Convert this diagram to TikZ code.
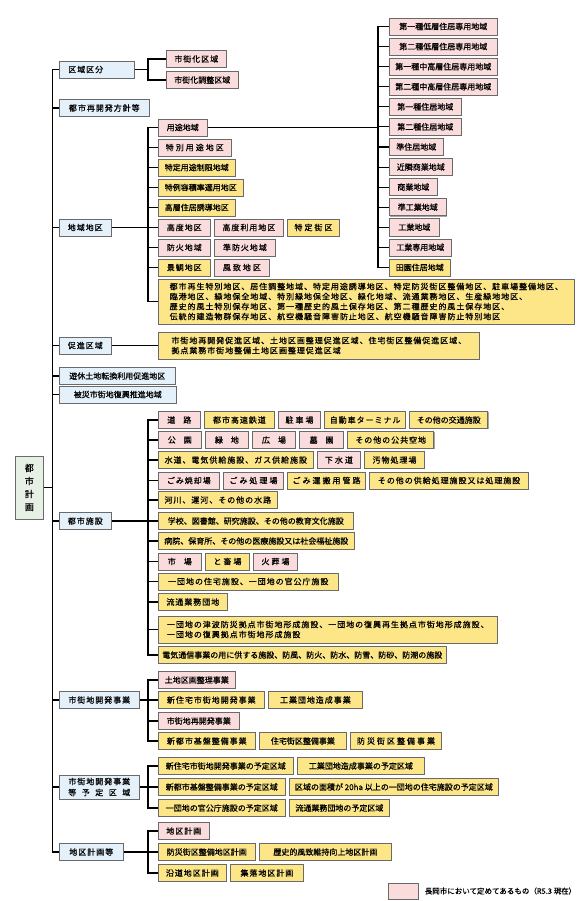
\documentclass[tikz,border=0pt]{standalone}
\usepackage{fontspec}
\setmainfont{Noto Sans CJK JP}[FakeBold=0.6]
\newfontfamily\semi{Noto Sans CJK JP}[LetterSpace=12,FakeBold=0.6]
\newfontfamily\wide{Noto Sans CJK JP}[LetterSpace=25,FakeBold=0.6]
\usetikzlibrary{positioning,shadows}
\definecolor{pinkfill}{HTML}{FADCDC}
\definecolor{yellowfill}{HTML}{FCE687}
\definecolor{bluefill}{HTML}{E4F1FB}
\definecolor{greenfill}{HTML}{E7F0E4}
\definecolor{boxline}{HTML}{6A6A6A}

\begin{document}
\begin{tikzpicture}[x=1pt,y=-1pt,node distance=3.5pt,
  box/.style={draw=boxline,line width=0.6pt,minimum height=17pt,inner sep=0pt,anchor=west,
    font=\fontsize{8pt}{10pt}\selectfont,
    drop shadow={shadow xshift=0.8pt,shadow yshift=-0.8pt,fill=black!35,opacity=1}},
  pk/.style={box,fill=pinkfill,minimum width=#1pt},
  yl/.style={box,fill=yellowfill,minimum width=#1pt},
  bl/.style={box,fill=bluefill,minimum width=#1pt},
  sm/.style={font=\fontsize{8pt}{10pt}\semi},
  wd/.style={font=\fontsize{8pt}{10pt}\wide},
  link/.style={line width=1.1pt}]
  \useasboundingbox[fill=white] (0,0) rectangle (580,901);

  % root and first level
  \node[box,fill=greenfill,minimum width=28pt,minimum height=63pt,align=center,
    font=\fontsize{9pt}{13pt}\selectfont] (toshikeikaku) at (15,487.5) {都\\市\\計\\画};
  \node[bl=75,sm,text width=57pt,align=left,inner xsep=9pt] (kubun) at (59,69.5) {区域区分};
  \node[bl=90,sm] (hoshin) at (59,108) {都市再開発方針等};
  \node[bl=52,sm] (chiiki) at (59,227.5) {地域地区};
  \node[bl=52,sm] (sokushin) at (59,345.5) {促進区域};
  \node[bl=116] (yukyu) at (59,376) {遊休土地転換利用促進地区};
  \node[bl=117] (hisai) at (59,394.5) {被災市街地復興推進地域};
  \node[bl=52,sm] (shisetsu) at (59,521) {都市施設};
  \node[bl=80,sm] (jigyo) at (59,700) {市街地開発事業};
  \node[bl=80,minimum height=24pt,align=center,font=\fontsize{8pt}{11pt}\semi] (yotei) at (59,787)
    {市街地開発事業\\\makebox[62pt][s]{等\hfill{}予\hfill{}定\hfill{}区\hfill{}域}};
  \node[bl=64,sm] (chiku) at (59,852) {地区計画等};

  % 区域区分
  \node[pk=60,sm] (shigaika) at (166,59) {市街化区域};
  \node[pk=72] (chosei) at (166,80) {市街化調整区域};

  % 地域地区
  \node[pk=49] (yoto) at (158,127.5) {用途地域};
  \node[pk=73,wd] (tokubetsu) at (158,147.5) {特別用途地区};
  \node[yl=77] (tokutei) at (158,167.5) {特定用途制限地域};
  \node[yl=85] (tokurei) at (158,187.5) {特例容積率適用地区};
  \node[yl=77] (koso) at (158,207.5) {高層住居誘導地区};
  \node[pk=52,sm] (kodo) at (158,227.5) {高度地区};
  \node[pk=69,sm,right=of kodo] (kodoriyo) {高度利用地区};
  \node[yl=52,wd,right=of kodoriyo] (gaiku) {特定街区};
  \node[pk=52,sm] (boka) at (158,247.5) {防火地域};
  \node[pk=61,sm,right=of boka] (junboka) {準防火地域};
  \node[yl=52,sm] (keikan) at (158,267.5) {景観地区};
  \node[pk=55,wd,right=of keikan] (fuchi) {風致地区};
  \node[yl=416,minimum height=45pt,align=left,font=\fontsize{8pt}{10pt}\semi] (sonota) at (158,301.5)
    {都市再生特別地区、居住調整地域、特定用途誘導地区、特定防災街区整備地区、駐車場整備地区、\\
     臨港地区、緑地保全地域、特別緑地保全地区、緑化地域、流通業務地区、生産緑地地区、\\
     歴史的風土特別保存地区、第一種歴史的風土保存地区、第二種歴史的風土保存地区、\\
     伝統的建造物群保存地区、航空機騒音障害防止地区、航空機騒音障害防止特別地区};

  % 用途地域
  \foreach \t/\w/\c [count=\i] in {第一種低層住居専用地域/108/pk,第二種低層住居専用地域/108/pk,
      第一種中高層住居専用地域/108/pk,第二種中高層住居専用地域/108/pk,第一種住居地域/72/pk,
      第二種住居地域/72/pk,準住居地域/54/pk,近隣商業地域/63/pk,商業地域/48/pk,
      準工業地域/57/pk,工業地域/50/pk,工業専用地域/62/pk,田園住居地域/61/yl}
    \node[\c=\w] (z\i) at (389,26.5+20.08*\i-20.08) {\t};

  % 促進区域
  \node[yl=321,minimum height=27pt,align=left,font=\fontsize{8pt}{10pt}\semi] (sokuyo) at (158,345.5)
    {市街地再開発促進区域、土地区画整理促進区域、住宅街区整備促進区域、\\
     拠点業務市街地整備土地区画整理促進区域};

  % 都市施設
  \node[pk=42] (doro) at (158,420) {道　路};
  \node[yl=70,sm,right=of doro] (kosoku) {都市高速鉄道};
  \node[pk=42,wd,right=of kosoku] (chusha) {駐車場};
  \node[yl=81,sm,right=of chusha] (terminal) {自動車ターミナル};
  \node[yl=78,right=of terminal] (kotsu) {その他の交通施設};
  \node[pk=43] (koen) at (158,440) {公　園};
  \node[pk=43,right=of koen] (ryokuchi) {緑　地};
  \node[pk=43,right=of ryokuchi] (hiroba) {広　場};
  \node[pk=44,right=of hiroba] (boen) {墓　園};
  \node[yl=86,sm,right=of boen] (kukichi) {その他の公共空地};
  \node[yl=155,sm] (suido) at (158,460) {水道、電気供給施設、ガス供給施設};
  \node[pk=43,wd,right=of suido] (gesui) {下水道};
  \node[yl=60,sm,right=of gesui] (obutsu) {汚物処理場};
  \node[pk=61,sm] (shokyaku) at (158,480.5) {ごみ焼却場};
  \node[pk=60,wd,right=of shokyaku] (gomi) {ごみ処理場};
  \node[yl=78,wd,right=of gomi] (kanro) {ごみ運搬用管路};
  \node[yl=159,sm,right=of kanro] (kyokyu) {その他の供給処理施設又は処理施設};
  \node[yl=119,sm] (kasen) at (158,500) {河川、運河、その他の水路};
  \node[yl=195] (gakko) at (158,521) {学校、図書館、研究施設、その他の教育文化施設};
  \node[yl=196] (byoin) at (158,541) {病院、保育所、その他の医療施設又は社会福祉施設};
  \node[pk=43] (ichiba) at (158,561.5) {市　場};
  \node[yl=44,wd,right=of ichiba] (tochiku) {と畜場};
  \node[pk=44,wd,right=of tochiku] (kaso) {火葬場};
  \node[yl=180,sm] (danchi) at (158,581.5) {一団地の住宅施設、一団地の官公庁施設};
  \node[yl=69,sm] (ryutsu) at (158,602) {流通業務団地};
  \node[yl=339,minimum height=27pt,align=left,font=\fontsize{8pt}{10pt}\semi] (fukko) at (158,629.5)
    {一団地の津波防災拠点市街地形成施設、一団地の復興再生拠点市街地形成施設、\\
     一団地の復興拠点市街地形成施設};
  \node[yl=288] (denki) at (158,655) {電気通信事業の用に供する施設、防風、防火、防水、防雪、防砂、防潮の施設};

  % 市街地開発事業
  \node[pk=77] (kukaku) at (158,680) {土地区画整理事業};
  \node[yl=106,sm] (shinjutaku) at (158,700) {新住宅市街地開発事業};
  \node[yl=94,sm,right=of shinjutaku] (kogyo) {工業団地造成事業};
  \node[pk=81] (saikai) at (158,721) {市街地再開発事業};
  \node[yl=97,sm] (shintoshi) at (158,741) {新都市基盤整備事業};
  \node[yl=87,right=of shintoshi] (jutakugai) {住宅街区整備事業};
  \node[yl=91,wd,right=of jutakugai] (bosai) {防災街区整備事業};

  % 予定区域
  \node[yl=135] (yo1) at (158,766) {新住宅市街地開発事業の予定区域};
  \node[yl=127,right=of yo1] (yo2) {工業団地造成事業の予定区域};
  \node[yl=127] (yo3) at (158,787) {新都市基盤整備事業の予定区域};
  \node[yl=209,right=of yo3] (yo4) {区域の面積が 20ha 以上の一団地の住宅施設の予定区域};
  \node[yl=127] (yo5) at (158,808) {一団地の官公庁施設の予定区域};
  \node[yl=100,right=of yo5] (yo6) {流通業務団地の予定区域};

  % 地区計画等
  \node[pk=51,sm] (chikukeikaku) at (158,831) {地区計画};
  \node[yl=97] (bosaichiku) at (158,852) {防災街区整備地区計画};
  \node[yl=132,right=of bosaichiku] (rekishi) {歴史的風致維持向上地区計画};
  \node[yl=68,sm] (endo) at (158,873) {沿道地区計画};
  \node[yl=73,sm,right=of endo] (shuraku) {集落地区計画};

  % legend
  \node[pk=30,minimum height=16pt] (hanrei) at (388,891) {};
  \node[anchor=west,inner sep=0pt,font=\fontsize{7.5pt}{9pt}\selectfont,right=6pt of hanrei] (hanreitext)
    {長岡市において定めてあるもの（R5.3 現在）};

  % connectors
  \coordinate (trunk) at (52.5,487.5);
  \draw[link] (toshikeikaku.east) -- (trunk);
  \foreach \n in {kubun,hoshin,chiiki,sokushin,yukyu,hisai,shisetsu,jigyo,yotei,chiku}
    \draw[link] (trunk) |- (\n.west);
  \coordinate (kb) at (148,69.5);
  \draw[link] (kubun.east) -- (kb);
  \foreach \n in {shigaika,chosei} \draw[link] (kb) |- (\n.west);
  \coordinate (cb) at (148,227.5);
  \draw[link] (chiiki.east) -- (cb);
  \foreach \n in {yoto,tokubetsu,tokutei,tokurei,koso,kodo,boka,keikan,sonota}
    \draw[link] (cb) |- (\n.west);
  \coordinate (zb) at (378,127.5);
  \draw[link] (yoto.east) -- (zb);
  \foreach \i in {1,...,13} \draw[link] (zb) |- (z\i.west);
  \draw[link] (sokushin.east) -- (sokuyo.west);
  \coordinate (sb) at (148,521);
  \draw[link] (shisetsu.east) -- (sb);
  \foreach \n in {doro,koen,suido,shokyaku,kasen,gakko,byoin,ichiba,danchi,ryutsu,fukko,denki}
    \draw[link] (sb) |- (\n.west);
  \coordinate (jb) at (148,700);
  \draw[link] (jigyo.east) -- (jb);
  \foreach \n in {kukaku,shinjutaku,saikai,shintoshi} \draw[link] (jb) |- (\n.west);
  \coordinate (yb) at (148,787);
  \draw[link] (yotei.east) -- (yb);
  \foreach \n in {yo1,yo3,yo5} \draw[link] (yb) |- (\n.west);
  \coordinate (tb) at (148,852);
  \draw[link] (chiku.east) -- (tb);
  \foreach \n in {chikukeikaku,bosaichiku,endo} \draw[link] (tb) |- (\n.west);
\end{tikzpicture}
\end{document}
